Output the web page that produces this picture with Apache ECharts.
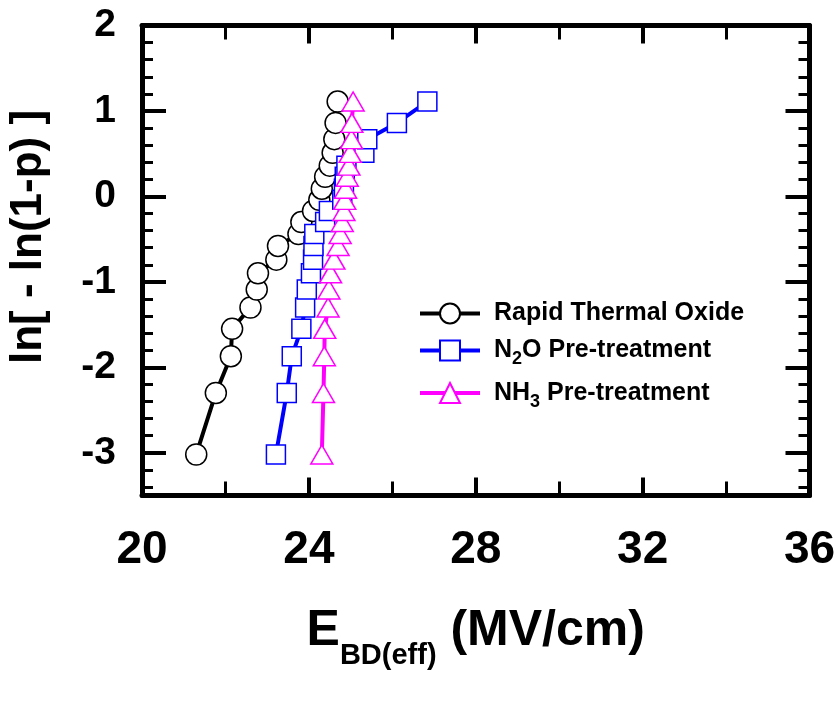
<!DOCTYPE html>
<html><head><meta charset="utf-8">
<script src="https://cdn.jsdelivr.net/npm/echarts@6/dist/echarts.min.js"></script>
<style>html,body{margin:0;padding:0;background:#fff}#c{width:839px;height:720px}</style>
</head><body><div id="c"></div>
<script>
// Weibull plot ordinate ln[-ln(1-p)] (shared by all three series)
const weibullY = [-3.02,-2.30,-1.87,-1.55,-1.30,-1.09,-0.90,-0.74,-0.58,-0.44,-0.30,-0.17,-0.04,0.09,0.23,0.36,0.51,0.67,0.86,1.11];
// Effective breakdown field (MV/cm)
const rtoE = [21.30,21.77,22.13,22.16,22.60,22.75,22.78,23.22,23.26,23.75,23.82,24.10,24.25,24.31,24.39,24.50,24.57,24.61,24.64,24.69];
const n2oE = [23.21,23.47,23.59,23.82,23.91,23.95,24.05,24.10,24.11,24.13,24.39,24.48,24.80,24.84,24.86,24.90,25.33,25.40,26.11,26.84];
const nh3E = [24.31,24.35,24.37,24.38,24.46,24.48,24.52,24.60,24.70,24.75,24.80,24.84,24.86,24.88,24.92,24.96,24.99,25.02,25.03,25.06];
const seriesNames = ['Rapid Thermal Oxide','N2O Pre-treatment','NH3 Pre-treatment'];
const legendRich = {
  'Rapid Thermal Oxide': '{t|Rapid Thermal Oxide}',
  'N2O Pre-treatment': '{t|N}{s|2}{t|O Pre-treatment}',
  'NH3 Pre-treatment': '{t|NH}{s|3}{t| Pre-treatment}'
};
const xTicks = {min: 20, max: 36, interval: 4};
const yRange = {min: -3.5, max: 2};

const sans = 'Arial,"Liberation Sans",Helvetica,sans-serif';

function pairs(xs, ys){ return xs.map((x,i)=>[x, ys[i]]); }

const frameLine = {show:true, onZero:false, lineStyle:{color:'#000', width:5}};
function xAx(pos, showLabel){
  return {
    type:'value', position:pos, min:xTicks.min, max:xTicks.max, interval:xTicks.interval,
    axisLine: frameLine,
    axisTick:{show:true, inside:true, length:18, lineStyle:{color:'#000', width:4}},
    minorTick:{show:true, splitNumber:2, length:14, lineStyle:{color:'#000', width:3}},
    splitLine:{show:false}, minorSplitLine:{show:false},
    axisLabel:{show:showLabel, margin:32, color:'#000', fontFamily:sans, fontWeight:'bold', fontSize:46},
    name: showLabel ? '{m|E}{s|BD(eff)}{m| (MV/cm)}' : '',
    nameLocation:'middle', nameGap:96,
    nameTextStyle:{rich:{
      m:{fontFamily:sans, fontWeight:'bold', fontSize:50, color:'#000'},
      s:{fontFamily:sans, fontWeight:'bold', fontSize:29, color:'#000', padding:[50,0,0,0]}
    }}
  };
}
function yAx(pos, showLabel){
  return {
    type:'value', position:pos, min:yRange.min, max:yRange.max, splitNumber:5,
    axisLine: frameLine,
    axisTick:{show:true, inside:true, length:24, lineStyle:{color:'#000', width:4}},
    minorTick:{show:true, splitNumber:5, length:11, lineStyle:{color:'#000', width:3}},
    splitLine:{show:false}, minorSplitLine:{show:false},
    axisLabel:{show:showLabel, margin:26, color:'#000', fontFamily:sans, fontWeight:'bold', fontSize:39,
      showMinLabel:false,
      formatter: v => (Math.abs(v - Math.round(v)) < 1e-9 ? String(Math.round(v)) : '')}
  };
}
function mkSeries(name, xs, color, symbol, size){
  return {
    name, type:'line', xAxisIndex:0, yAxisIndex:0,
    data: pairs(xs, weibullY),
    symbol, symbolSize:size, showSymbol:true,
    lineStyle:{color, width:4},
    itemStyle:{color:'#fff', borderColor:color, borderWidth:1.5},
    emphasis:{disabled:true}
  };
}

const chart = echarts.init(document.getElementById('c'), null, {renderer:'canvas'});
chart.setOption({
  animation:false,
  backgroundColor:'#fff',
  grid:{left:142, right:29.5, top:25.5, bottom:224.5, containLabel:false},
  xAxis:[xAx('bottom', true), xAx('top', false)],
  yAxis:[yAx('left', true), yAx('right', false)],
  legend:{
    data: seriesNames, orient:'vertical', left:413, top:296,
    itemWidth:60, itemHeight:25, itemGap:12,
    lineStyle:{width:4},
    formatter: n => legendRich[n],
    textStyle:{padding:[0,0,0,9], rich:{
      t:{fontFamily:sans, fontWeight:'bold', fontSize:25, color:'#000'},
      s:{fontFamily:sans, fontWeight:'bold', fontSize:18, color:'#000', padding:[18,0,0,0]}
    }}
  },
  graphic:[{
    type:'text', x:29, y:237, rotation:Math.PI/2,
    style:{text:'ln[ - ln(1-p) ]', fill:'#000', font:'bold 44px ' + sans, textAlign:'center', textVerticalAlign:'middle'}
  }],
  series:[
    mkSeries(seriesNames[0], rtoE, '#000000', 'circle', 21),
    mkSeries(seriesNames[1], n2oE, '#0000ff', 'rect', 19),
    mkSeries(seriesNames[2], nh3E, '#ff00ff', 'triangle', [22,19])
  ]
});
</script></body></html>
